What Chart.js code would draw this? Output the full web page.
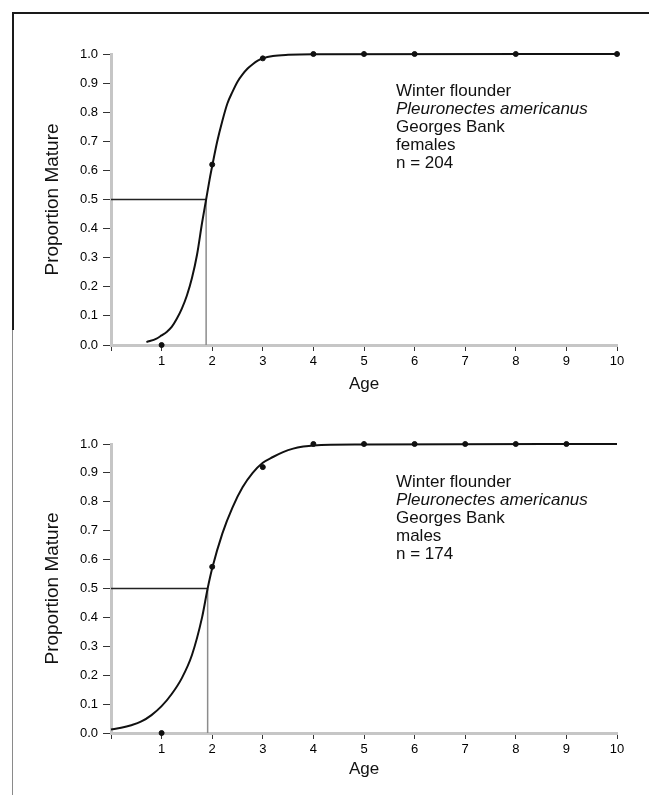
<!DOCTYPE html>
<html>
<head>
<meta charset="utf-8">
<title>Winter flounder maturity</title>
<script src="https://cdn.jsdelivr.net/npm/chart.js@4.4.1/dist/chart.umd.min.js"></script>
<style>
    html, body { margin: 0; padding: 0; background: #fff; }
    body { width: 649px; height: 808px; position: relative; overflow: hidden;
           font-family: "Liberation Sans", Arial, Helvetica, sans-serif; color: #111; }
    canvas { position: absolute; left: 0; }
    .frame { position: absolute; }
    .note { position: absolute; left: 396px; font-size: 17px; line-height: 18px; white-space: nowrap; }
    .note i { font-style: italic; }
</style>
</head>
<body>
<div class="frame" style="left:12px; top:12px; width:637px; height:2px; background:#1a1a1a;"></div>
<div class="frame" style="left:12px; top:12px; width:2px; height:318px; background:#1a1a1a;"></div>
<div class="frame" style="left:12px; top:330px; width:1px; height:465px; background:#8a8a8a;"></div>

<canvas id="chart-females" width="649" height="395" style="top:0;"></canvas>
<canvas id="chart-males" width="649" height="400" style="top:390px;"></canvas>

<div class="note" style="top:82px;">Winter flounder<br><i>Pleuronectes americanus</i><br>Georges Bank<br>females<br>n = 204</div>
<div class="note" style="top:473px;">Winter flounder<br><i>Pleuronectes americanus</i><br>Georges Bank<br>males<br>n = 174</div>

<script>
// --- datos ---
const yTickValues = [0, 0.1, 0.2, 0.3, 0.4, 0.5, 0.6, 0.7, 0.8, 0.9, 1.0];
const xTickLabels = ['', '1', '2', '3', '4', '5', '6', '7', '8', '9', '10'];

// hembras
const femaleObsAge  = [1, 2, 3, 4, 5, 6, 8, 10];
const femaleObsProp = [0.0, 0.62, 0.985, 1.0, 1.0, 1.0, 1.0, 1.0];
const femaleCurveAge  = [0.7, 0.9, 1.0, 1.1, 1.2, 1.3, 1.4, 1.5, 1.6, 1.7, 1.8, 1.88, 1.95, 2.0, 2.1, 2.2, 2.3, 2.4, 2.5, 2.6, 2.7, 2.8, 2.9, 3.0, 3.2, 3.5, 4.0, 10];
const femaleCurveProp = [0.01, 0.022, 0.033, 0.045, 0.062, 0.09, 0.125, 0.17, 0.23, 0.31, 0.42, 0.5, 0.57, 0.615, 0.70, 0.77, 0.83, 0.87, 0.905, 0.93, 0.95, 0.965, 0.977, 0.985, 0.993, 0.997, 0.999, 1.0];
const femaleA50 = 1.88;

// machos
const maleObsAge  = [1, 2, 3, 4, 5, 6, 7, 8, 9];
const maleObsProp = [0.0, 0.575, 0.92, 1.0, 1.0, 1.0, 1.0, 1.0, 1.0];
const maleCurveAge  = [0, 0.2, 0.4, 0.6, 0.8, 1.0, 1.2, 1.4, 1.6, 1.8, 1.91, 2.0, 2.2, 2.4, 2.6, 2.8, 3.0, 3.2, 3.4, 3.6, 3.8, 4.0, 5.0, 10];
const maleCurveProp = [0.012, 0.018, 0.027, 0.04, 0.062, 0.093, 0.135, 0.19, 0.27, 0.4, 0.5, 0.57, 0.69, 0.78, 0.85, 0.9, 0.935, 0.955, 0.972, 0.984, 0.991, 0.995, 0.998, 1.0];
const maleA50 = 1.91;

const FONT = '"Liberation Sans", Arial, Helvetica, sans-serif';

function toXY(xs, ys) {
    return xs.map((x, i) => ({ x: x, y: ys[i] }));
}

function buildChart(canvasId, cfg) {
    const ctx = document.getElementById(canvasId).getContext('2d');

    return new Chart(ctx, {
        type: 'line',
        data: {
            datasets: [
                {   // curva ajustada
                    data: toXY(cfg.curveAge, cfg.curveProp),
                    borderColor: '#111',
                    borderWidth: 2,
                    pointRadius: 0,
                    cubicInterpolationMode: 'monotone',
                    clip: false
                },
                {   // proporciones observadas
                    type: 'scatter',
                    data: toXY(cfg.obsAge, cfg.obsProp),
                    backgroundColor: '#111',
                    borderColor: '#111',
                    pointRadius: 2.5,
                    clip: false
                },
                {   // linea horizontal 50%
                    data: [{ x: 0, y: 0.5 }, { x: cfg.a50, y: 0.5 }],
                    borderColor: '#222',
                    borderWidth: 1.3,
                    pointRadius: 0
                },
                {   // linea vertical a50
                    data: [{ x: cfg.a50, y: 0 }, { x: cfg.a50, y: 0.5 }],
                    borderColor: '#8c8c8c',
                    borderWidth: 1.5,
                    pointRadius: 0
                }
            ]
        },
        options: {
            responsive: false,
            animation: false,
            devicePixelRatio: 1,
            layout: { padding: { left: 0, top: 54, right: 32, bottom: 0 } },
            plugins: {
                legend: { display: false },
                tooltip: { enabled: false }
            },
            scales: {
                x: {
                    type: 'linear',
                    min: 0,
                    max: 10,
                    afterFit: s => { s.height = cfg.xHeight; },
                    afterBuildTicks: s => { s.ticks = xTickLabels.map((t, i) => ({ value: i })); },
                    border: { display: true, color: '#c6c6c6', width: 3 },
                    grid: { drawOnChartArea: false, drawTicks: true, tickLength: 6, color: '#333' },
                    ticks: {
                        padding: 3,
                        color: '#000',
                        font: { family: FONT, size: 13 },
                        callback: (v, i) => xTickLabels[i]
                    },
                    title: {
                        display: true,
                        text: 'Age',
                        color: '#111',
                        font: { family: FONT, size: 17 },
                        padding: { top: 0, bottom: cfg.ageBottom }
                    }
                },
                y: {
                    type: 'linear',
                    min: 0,
                    max: 1,
                    afterFit: s => { s.width = 111; },
                    afterBuildTicks: s => { s.ticks = yTickValues.map(v => ({ value: v })); },
                    border: { display: true, color: '#c6c6c6', width: 3 },
                    grid: { drawOnChartArea: false, drawTicks: true, tickLength: 8, color: '#333' },
                    ticks: {
                        padding: 5,
                        color: '#000',
                        font: { family: FONT, size: 13 },
                        callback: v => Number(v).toFixed(1)
                    },
                    title: {
                        display: true,
                        text: 'Proportion Mature',
                        color: '#111',
                        font: { family: FONT, size: 19 },
                        padding: { top: 41, bottom: 0 }
                    }
                }
            }
        }
    });
}

buildChart('chart-females', {
    curveAge: femaleCurveAge, curveProp: femaleCurveProp,
    obsAge: femaleObsAge, obsProp: femaleObsProp,
    a50: femaleA50, xHeight: 50, ageBottom: 0
});

buildChart('chart-males', {
    curveAge: maleCurveAge, curveProp: maleCurveProp,
    obsAge: maleObsAge, obsProp: maleObsProp,
    a50: maleA50, xHeight: 57, ageBottom: 10
});
</script>
</body>
</html>
